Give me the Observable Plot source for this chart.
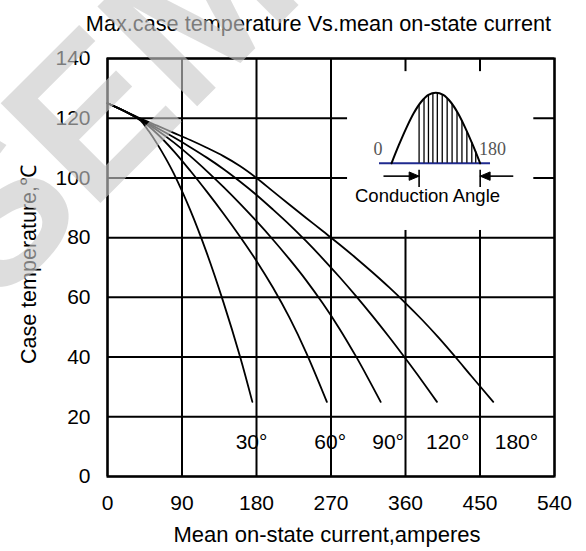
<!DOCTYPE html>
<html>
<head>
<meta charset="utf-8">
<script src="https://cdn.jsdelivr.net/npm/d3@7"></script>
<script src="https://cdn.jsdelivr.net/npm/@observablehq/plot@0.6"></script>
<style>
  html, body { margin: 0; padding: 0; background: #fff; }
</style>
</head>
<body>
<div id="chart"></div>
<script>
// ---- data ----
const xTicks = [0, 90, 180, 270, 360, 450, 540];
const yTicks = [0, 20, 40, 60, 80, 100, 120, 140];

const curve30x  = [0, 20, 40, 50, 60, 70, 80, 100, 120, 140, 160, 175];
const curve30y  = [125, 122.5, 119.2, 115.6, 111.4, 106.7, 101.5, 89.2, 74.8, 58.4, 40.3, 25];
const curve60x  = [0, 20, 40, 60, 80, 100, 120, 140, 160, 180, 200, 220, 240, 265];
const curve60y  = [125, 122.4, 119.4, 114.8, 109, 102.4, 95.4, 88.1, 80.4, 72.2, 63.2, 53.1, 41.5, 25];
const curve90x  = [0, 20, 40, 60, 80, 100, 120, 140, 160, 180, 200, 220, 240, 260, 280, 300, 315, 330];
const curve90y  = [125, 122.4, 119.5, 116, 111.9, 107.3, 102.3, 97, 91.4, 85.5, 79.3, 72.7, 65.7, 58, 49.6, 40.3, 32.8, 25];
const curve120x = [0, 20, 40, 60, 80, 100, 120, 140, 160, 180, 200, 220, 240, 260, 280, 300, 320, 340, 360, 380, 398];
const curve120y = [125, 122.4, 119.6, 116.7, 113.6, 110.3, 106.8, 103, 98.8, 94.3, 89.4, 84.3, 78.8, 73, 66.9, 60.5, 53.8, 46.8, 39.5, 32, 25];
const curve180x = [0, 20, 40, 60, 80, 100, 120, 140, 160, 180, 200, 220, 240, 260, 280, 300, 320, 340, 360, 380, 400, 420, 440, 466];
const curve180y = [125, 122.5, 119.9, 117.5, 115.1, 112.7, 110.1, 107.3, 104, 100, 95.5, 91, 86.6, 82.2, 77.8, 73.2, 68.4, 63.4, 58.1, 52.5, 46.5, 40.1, 33.5, 25];

const angleLabels = ["30°", "60°", "90°", "120°", "180°"];
const labelX = [174, 269, 339, 411, 494];
const labelY = [11.5, 11.5, 11.5, 11.5, 11.5];

// inset waveform (conduction angle sketch)
const waveAngle  = [0, 15, 30, 45, 60, 75, 90, 105, 120, 135, 150, 165, 180];
const waveHeight = [0, 0.26, 0.5, 0.71, 0.87, 0.97, 1, 0.97, 0.87, 0.71, 0.5, 0.26, 0];
const hatchAngle  = [56, 66, 75, 84, 93, 103, 113, 123, 133, 143, 153, 163, 171, 180];
const hatchHeight = [0.83, 0.91, 0.97, 0.99, 1, 0.97, 0.92, 0.84, 0.73, 0.6, 0.45, 0.29, 0.16, 0];

const titleText = "Max.case temperature Vs.mean on-state current";
const xLabelText = "Mean on-state current,amperes";
const yLabelText = "Case temperature,℃";
const watermarkText = "SEMI";

// ---- build tables ----
const curves = [
  ["30", curve30x, curve30y], ["60", curve60x, curve60y], ["90", curve90x, curve90y],
  ["120", curve120x, curve120y], ["180", curve180x, curve180y]
].flatMap(([a, xs, ys]) => xs.map((x, i) => ({angle: a, x, y: ys[i]})));
const labels = angleLabels.map((t, i) => ({t, x: labelX[i], y: labelY[i]}));

// inset placement in chart units
const ix0 = 343.1, iw = 107.1, iy0 = 104.9, ih = 23.6;
const ix = a => ix0 + a * iw / 180;
const iy = h => iy0 + h * ih;
const wave = waveAngle.map((a, i) => ({x: ix(a), y: iy(waveHeight[i])}));
const hatch = hatchAngle.map((a, i) => ({x: ix(a), y2: iy(hatchHeight[i])}));
const leftTip = ix(56), rightTip = ix(180), arrowY = 100.6;

const font = "Liberation Sans, Arial, sans-serif";

const chart = Plot.plot({
  width: 586,
  height: 551,
  marginLeft: 107,
  marginRight: 32,
  marginTop: 58,
  marginBottom: 75,
  style: {fontFamily: font, fontSize: "21px", color: "#000", background: "#fff"},
  x: {domain: [0, 540], ticks: xTicks, tickSize: 0, tickPadding: 19, label: null},
  y: {domain: [0, 140], ticks: yTicks, tickSize: 0, tickPadding: 17, label: null},
  marks: [
    Plot.gridX(xTicks, {stroke: "#000", strokeOpacity: 1, strokeWidth: 2}),
    Plot.gridY(yTicks, {stroke: "#000", strokeOpacity: 1, strokeWidth: 2}),
    Plot.rect([0], {x1: 290, x2: 515, y1: 82.4, y2: 135.6, fill: "#fff"}),
    Plot.frame({stroke: "#000", strokeWidth: 2.2}),
    Plot.line(curves, {x: "x", y: "y", z: "angle", stroke: "#000", strokeWidth: 1.8, curve: "catmull-rom"}),
    Plot.text(labels, {x: "x", y: "y", text: "t", fontSize: 21, fill: "#000"}),
    // inset
    Plot.ruleY([0], {x1: 328.6, x2: 462.7, y: iy0, stroke: "#1f2a8f", strokeWidth: 2}),
    Plot.ruleX(hatch, {x: "x", y1: iy0, y2: "y2", stroke: "#000", strokeWidth: 1.3}),
    Plot.line(wave, {x: "x", y: "y", stroke: "#000", strokeWidth: 2, curve: "catmull-rom"}),
    Plot.ruleY([0], {x1: 334, x2: leftTip - 10, y: arrowY, stroke: "#000", strokeWidth: 1.6}),
    Plot.ruleY([0], {x1: rightTip + 10, x2: 490.8, y: arrowY, stroke: "#000", strokeWidth: 1.6}),
    Plot.line([{x: leftTip, y: arrowY}, {x: leftTip - 12, y: arrowY + 1.4}, {x: leftTip - 12, y: arrowY - 1.4}, {x: leftTip, y: arrowY}],
      {x: "x", y: "y", fill: "#000", stroke: "#000", strokeWidth: 1}),
    Plot.line([{x: rightTip, y: arrowY}, {x: rightTip + 12, y: arrowY + 1.4}, {x: rightTip + 12, y: arrowY - 1.4}, {x: rightTip, y: arrowY}],
      {x: "x", y: "y", fill: "#000", stroke: "#000", strokeWidth: 1}),
    Plot.ruleX([leftTip, rightTip], {y1: 96.8, y2: 102.6, stroke: "#000", strokeWidth: 1.6}),
    Plot.text(["0"], {x: 326.9, y: 109.6, text: d => d, fontFamily: "Liberation Serif, serif", fontSize: 18, fill: "#555"}),
    Plot.text(["180"], {x: 465, y: 109.6, text: d => d, fontFamily: "Liberation Serif, serif", fontSize: 18, fill: "#555"}),
    Plot.text(["Conduction Angle"], {x: 386.6, y: 93.8, text: d => d, fontSize: 18.5, fill: "#000"}),
    // titles
    Plot.text([titleText], {frameAnchor: "top", lineAnchor: "middle", textAnchor: "middle", dx: -12.5, dy: -34, text: d => d, fontSize: 21.7, fill: "#000"}),
    Plot.text([xLabelText], {frameAnchor: "bottom", lineAnchor: "middle", textAnchor: "middle", dx: -4, dy: 58, text: d => d, fontSize: 22, fill: "#000"}),
    Plot.text([yLabelText], {frameAnchor: "left", lineAnchor: "middle", textAnchor: "middle", dx: -78.7, dy: -3, rotate: -90, text: d => d, fontSize: 21.5, fill: "#000"}),
    // watermark
    Plot.text([watermarkText], {x: -193, y: 71.5, rotate: -45, textAnchor: "start", lineAnchor: "middle",
      text: d => d, fontSize: 205, fontWeight: "bold", fill: "#c8c8c8", fillOpacity: 0.62})
  ]
});
document.getElementById("chart").appendChild(chart);
</script>
</body>
</html>
